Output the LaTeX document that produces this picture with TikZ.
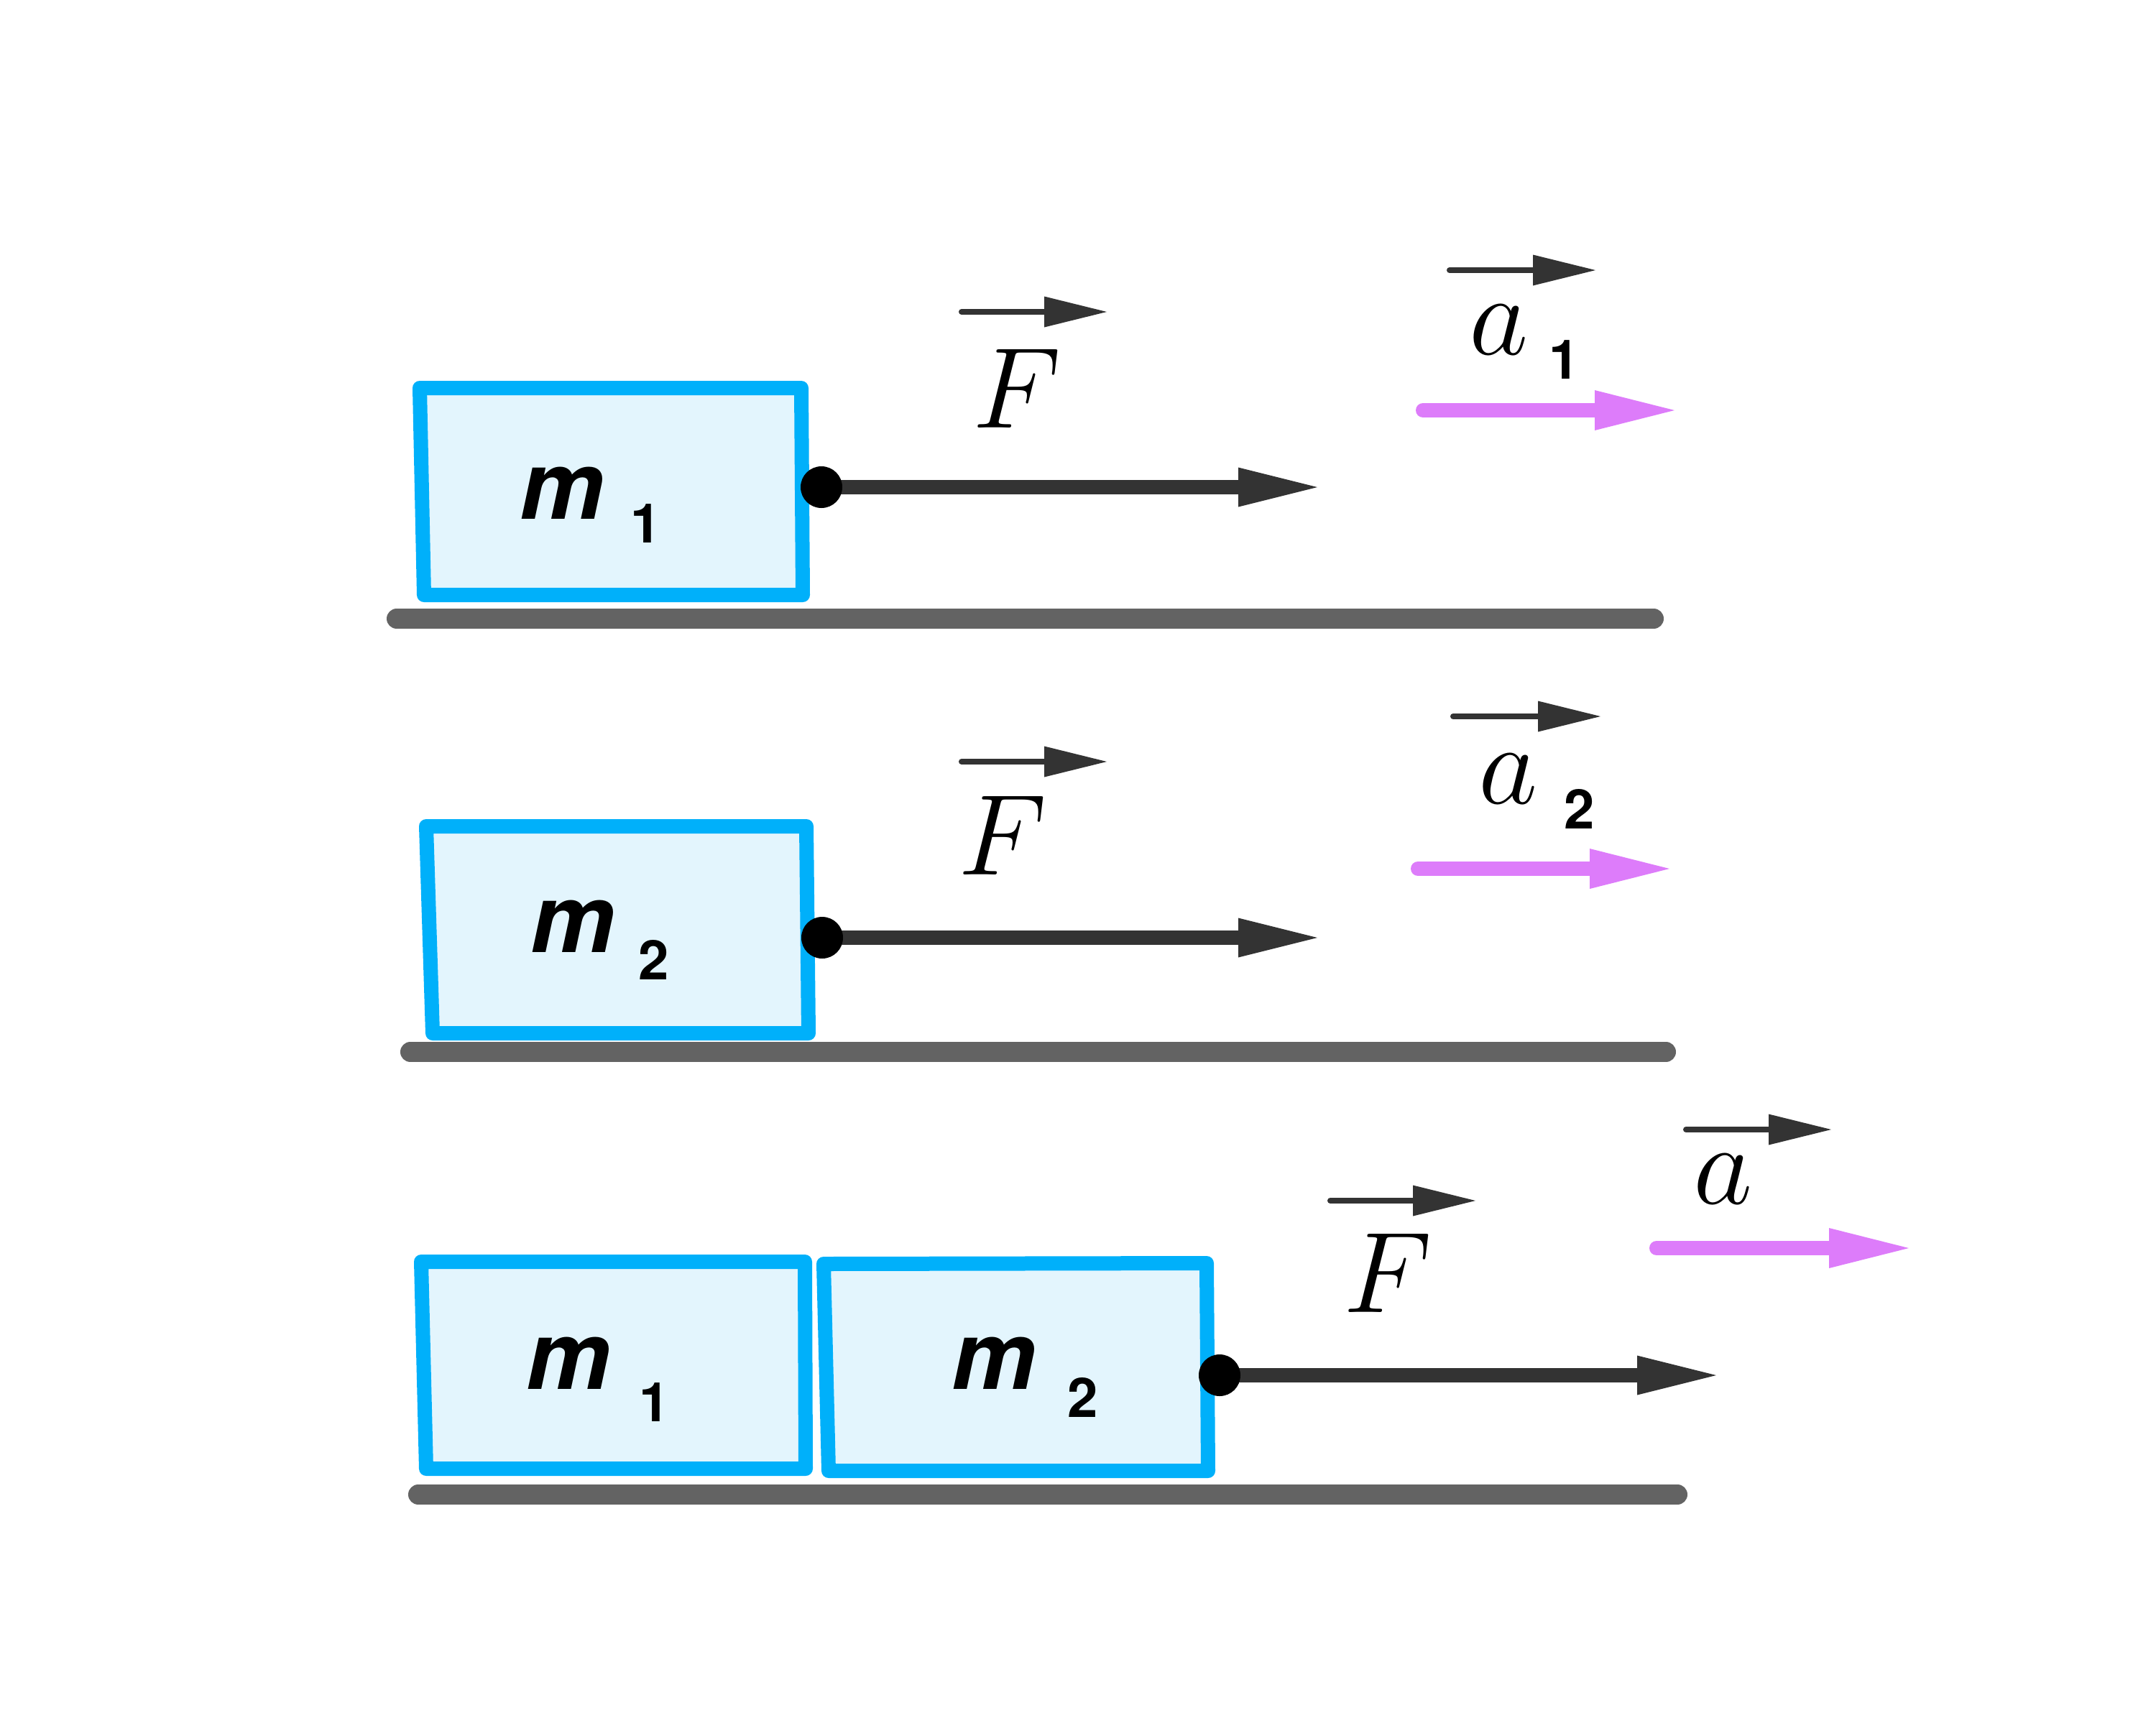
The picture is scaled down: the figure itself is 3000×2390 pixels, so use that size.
\RequirePackage{fix-cm}
\documentclass[tikz,border=0pt]{standalone}
\usepackage{fontspec}
\newfontfamily\heros{TeX Gyre Heros}
\usetikzlibrary{arrows.meta,calc}
\definecolor{blockblue}{HTML}{00B0FA}
\definecolor{blockfill}{HTML}{E3F5FD}
\definecolor{groundgray}{HTML}{636363}
\definecolor{forcegray}{HTML}{333333}
\definecolor{accpink}{HTML}{DD7CFA}
\newcommand{\mfont}{\heros\bfseries\itshape\fontsize{33}{40}\selectfont}
\newcommand{\sfont}{\heros\bfseries\fontsize{19}{23}\selectfont}
\newcommand{\vfont}{\fontsize{40}{48}\selectfont}
\tikzset{
 block/.style={draw=blockblue, fill=blockfill, line width=5pt, line join=round},
 ground/.style={draw=groundgray, line width=7pt, line cap=round},
 force/.style={draw=forcegray, line width=5pt, line cap=round, -{Triangle[length=27.5pt,width=13.75pt,line width=0pt]}},
 accel/.style={draw=accpink, line width=5pt, line cap=round, -{Triangle[length=27.75pt,width=14pt,line width=0pt]}},
 vecbar/.style={draw=forcegray, line width=2pt, line cap=round, -{Triangle[length=21.75pt,width=10.75pt,line width=0pt]}},
 dot/.style={circle, fill=black, inner sep=0pt, minimum size=14.5pt},
 lab/.style={inner sep=0pt, anchor=base},
}
\begin{document}
\begin{tikzpicture}[x=0.25pt,y=-0.25pt]
\useasboundingbox (0,0) rectangle (3000,2390);
\fill[white] (0,0) rectangle (3000,2390);

% ground lines
\draw[ground] (552,861) -- (2301,861);
\draw[ground] (571,1464) -- (2318,1464);
\draw[ground] (582,2080) -- (2334,2080);

% blocks
\draw[block] (584,540) -- (1115,540) -- (1117,828) -- (590,828) -- cycle;
\draw[block] (593,1150) -- (1122,1150) -- (1125,1438) -- (602,1438) -- cycle;
\draw[block] (586,1756) -- (1120,1756) -- (1121,2044) -- (593,2044) -- cycle;
\draw[block] (1146,1759) -- (1679,1758) -- (1681,2047) -- (1153,2047) -- cycle;

% mass labels
\node[lab] (mA)  at (782,722)   {\mfont m};
\node[lab] (mAs) at (899,755)   {\sfont 1};
\node[lab] (mB)  at (797,1325)  {\mfont m};
\node[lab] (mBs) at (910,1363)  {\sfont 2};
\node[lab] (mC)  at (791,1933)  {\mfont m};
\node[lab] (mCs) at (911,1978)  {\sfont 1};
\node[lab] (mD)  at (1383,1933) {\mfont m};
\node[lab] (mDs) at (1507,1972) {\sfont 2};

% force arrows
\coordinate (fsA) at (1143,678);  \coordinate (ftA) at (1833,678);
\coordinate (fsB) at (1144,1305); \coordinate (ftB) at (1833,1305);
\coordinate (fsC) at (1697,1914); \coordinate (ftC) at (2388,1914);
\draw[force] (fsA) -- (ftA);
\draw[force] (fsB) -- (ftB);
\draw[force] (fsC) -- (ftC);
\node[dot] (dA) at (fsA) {};
\node[dot] (dB) at (fsB) {};
\node[dot] (dC) at (fsC) {};

% F labels with vector bars
\node[lab] (FA) at (1415,595) {\vfont $F$};
\node[lab] (FB) at (1395,1217) {\vfont $F$};
\node[lab] (FC) at (1931,1826) {\vfont $F$};
\coordinate (vFAs) at (1338,434);  \coordinate (vFAe) at (1540,434);
\coordinate (vFBs) at (1338,1060); \coordinate (vFBe) at (1540,1060);
\coordinate (vFCs) at (1851,1671); \coordinate (vFCe) at (2053,1671);
\draw[vecbar] (vFAs) -- (vFAe);
\draw[vecbar] (vFBs) -- (vFBe);
\draw[vecbar] (vFCs) -- (vFCe);

% acceleration labels
\node[lab] (aA) at (2086,493) {\vfont $a$};
\node[lab] (aAs) at (2177,527) {\sfont 1};
\node[lab] (aB) at (2099,1118) {\vfont $a$};
\node[lab] (aBs) at (2198,1153) {\sfont 2};
\node[lab] (aC) at (2398,1675) {\vfont $a$};
\coordinate (vaAs) at (2017,376);  \coordinate (vaAe) at (2220,376);
\coordinate (vaBs) at (2022,997);  \coordinate (vaBe) at (2227,997);
\coordinate (vaCs) at (2346,1572); \coordinate (vaCe) at (2548,1572);
\draw[vecbar] (vaAs) -- (vaAe);
\draw[vecbar] (vaBs) -- (vaBe);
\draw[vecbar] (vaCs) -- (vaCe);

% acceleration arrows
\coordinate (pAs) at (1980,571);  \coordinate (pAe) at (2330,571);
\coordinate (pBs) at (1973,1209); \coordinate (pBe) at (2323,1209);
\coordinate (pCs) at (2305,1737); \coordinate (pCe) at (2656,1737);
\draw[accel] (pAs) -- (pAe);
\draw[accel] (pBs) -- (pBe);
\draw[accel] (pCs) -- (pCe);
\end{tikzpicture}
\end{document}
